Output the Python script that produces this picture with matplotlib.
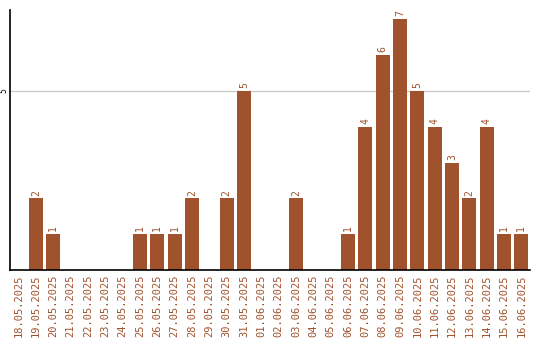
import matplotlib
matplotlib.use("Agg")
import matplotlib.pyplot as plt

dates = ['18.05.2025', '19.05.2025', '20.05.2025', '21.05.2025', '22.05.2025',
         '23.05.2025', '24.05.2025', '25.05.2025', '26.05.2025', '27.05.2025',
         '28.05.2025', '29.05.2025', '30.05.2025', '31.05.2025', '01.06.2025',
         '02.06.2025', '03.06.2025', '04.06.2025', '05.06.2025', '06.06.2025',
         '07.06.2025', '08.06.2025', '09.06.2025', '10.06.2025', '11.06.2025',
         '12.06.2025', '13.06.2025', '14.06.2025', '15.06.2025', '16.06.2025']
counts = [0, 2, 1, 0, 0, 0, 0, 1, 1, 1, 2, 0, 2, 5, 0,
          0, 2, 0, 0, 1, 4, 6, 7, 5, 4, 3, 2, 4, 1, 1]
ytick_vals = [5]

color = '#A0522D'

fig = plt.figure(figsize=(5.4, 3.4), dpi=100)
ax = fig.add_axes([10/540, 70/340, 520/540, 260/340])

x = list(range(len(dates)))
ax.bar(x, counts, width=0.8, color=color, zorder=2)
for xi, v in zip(x, counts):
    if v > 0:
        ax.text(xi, v + 0.08, str(v), rotation=90, ha='center', va='bottom',
                color=color, fontsize=7, family='DejaVu Sans Mono')

ax.set_xlim(-0.5, len(dates) - 0.5)
ax.set_ylim(0, 7.26)
ax.set_xticks(x)
ax.set_xticklabels(dates, rotation=90, color=color, fontsize=7.5,
                   family='DejaVu Sans Mono')
ax.set_yticks(ytick_vals)
ax.set_yticklabels([str(v) for v in ytick_vals], rotation=90, fontsize=5.5,
                   va='center')
ax.tick_params(axis='x', length=0, pad=3)
ax.tick_params(axis='y', length=0, pad=1)
ax.grid(axis='y', color='#cccccc', linewidth=1, zorder=0)

for s in ['top', 'right']:
    ax.spines[s].set_visible(False)
ax.spines['left'].set_linewidth(1.2)
ax.spines['bottom'].set_linewidth(1.2)

fig.savefig('out.png', dpi=100)
